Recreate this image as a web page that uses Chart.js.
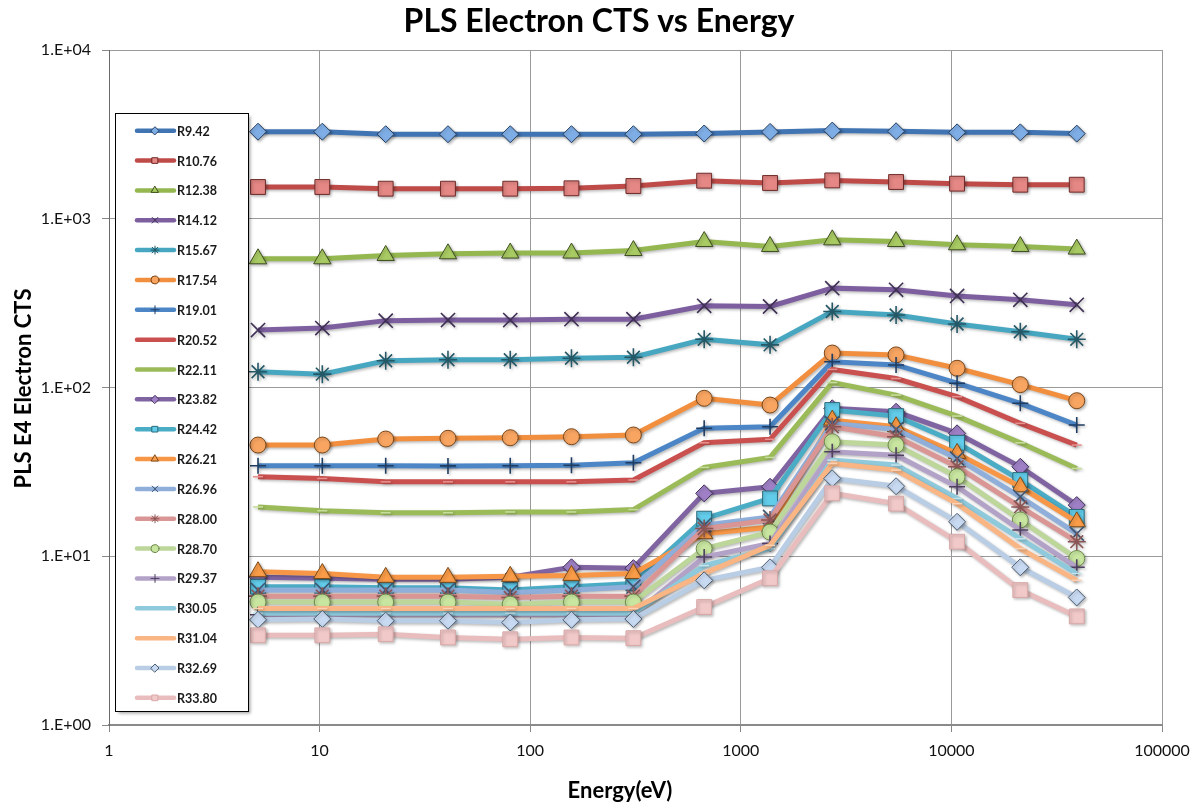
<!DOCTYPE html>
<html>
<head>
<meta charset="utf-8">
<script src="https://cdn.jsdelivr.net/npm/chart.js@4.4.1/dist/chart.umd.min.js"></script>
<style>
  html, body { margin: 0; padding: 0; background: #fff; }
  #wrap { width: 1199px; height: 807px; position: relative; }
</style>
</head>
<body>
<div id="wrap"><canvas id="c"></canvas></div>
<script>
// energy (eV) of each sample
const energy = [5.1, 10.3, 20.6, 40.7, 80.4, 157, 309, 670, 1377, 2718, 5461, 10640, 21240, 39370];

// counts per series
const r942  = [3280, 3280, 3170, 3170, 3170, 3170, 3170, 3200, 3270, 3330, 3300, 3250, 3250, 3195];
const r1076 = [1542, 1542, 1507, 1507, 1507, 1515, 1563, 1681, 1629, 1687, 1651, 1614, 1591, 1591];
const r1238 = [579, 579, 606, 620, 626, 626, 648, 733, 685, 750, 733, 701, 685, 661];
const r1412 = [219, 225, 249, 251, 251, 254, 254, 305, 302, 388, 379, 349, 331, 309];
const r1567 = [124, 120, 144, 146, 146, 149, 151, 193, 179, 282, 269, 238, 214, 193];
const r1754 = [45.6, 45.6, 49.5, 50, 50.4, 51.1, 52.3, 86.3, 78.7, 160, 156, 130, 104, 83.5];
const r1901 = [34.4, 34.4, 34.4, 34.3, 34.4, 34.6, 35.8, 57.3, 58.5, 142, 136, 106, 80.6, 59.9];
const r2052 = [29.6, 28.9, 27.6, 27.6, 27.6, 27.6, 28.3, 47, 49.3, 128, 113, 88.2, 61.3, 45.6];
const r2211 = [19.6, 18.6, 18.1, 18.1, 18.3, 18.3, 18.9, 33.6, 38.5, 107, 90.2, 67.7, 47, 33.1];
const r2382 = [7.5, 7.4, 7.3, 7.3, 7.5, 8.6, 8.5, 23.6, 25.8, 75.3, 71.8, 53.5, 33.9, 20.1];
const r2442 = [6.6, 6.6, 6.5, 6.5, 6.3, 6.6, 6.9, 16.7, 22, 73.5, 67.7, 47, 28.3, 17.1];
const r2621 = [8.1, 7.9, 7.5, 7.5, 7.6, 7.7, 7.9, 13.6, 14.9, 64.1, 58.5, 40.7, 25.8, 16.0];
const r2696 = [6.3, 6.3, 6.3, 6.3, 6.1, 6.3, 6.6, 15.3, 17.1, 61.3, 56.5, 38, 22.5, 13.6];
const r2800 = [5.8, 5.8, 5.8, 5.8, 5.7, 5.8, 5.8, 14.6, 16.4, 58.5, 51.1, 33.9, 19.6, 12.2];
const r2870 = [5.35, 5.35, 5.35, 5.35, 5.2, 5.35, 5.35, 11.1, 13.9, 47.7, 45.6, 29.6, 16.4, 9.7];
const r2937 = [4.5, 4.5, 4.5, 4.5, 4.5, 4.5, 4.5, 9.9, 11.9, 41.6, 39.7, 25.8, 14.3, 8.6];
const r3005 = [4.6, 4.6, 4.6, 4.6, 4.6, 4.6, 4.6, 8.8, 11.1, 37.1, 34.7, 22, 12.7, 7.9];
const r3104 = [4.9, 4.9, 4.9, 4.9, 4.9, 4.9, 4.9, 7.9, 11.6, 35.5, 32.4, 20.5, 11.1, 7.2];
const r3269 = [4.2, 4.25, 4.15, 4.15, 4.05, 4.2, 4.25, 7.2, 8.6, 28.9, 26.0, 16.0, 8.6, 5.7];
const r3380 = [3.4, 3.4, 3.45, 3.3, 3.22, 3.3, 3.27, 5.0, 7.4, 23.6, 20.5, 12.2, 6.3, 4.4];

const seriesNames = ['R9.42', 'R10.76', 'R12.38', 'R14.12', 'R15.67', 'R17.54', 'R19.01', 'R20.52', 'R22.11', 'R23.82',
                     'R24.42', 'R26.21', 'R26.96', 'R28.00', 'R28.70', 'R29.37', 'R30.05', 'R31.04', 'R32.69', 'R33.80'];
const seriesValues = [r942, r1076, r1238, r1412, r1567, r1754, r1901, r2052, r2211, r2382,
                      r2442, r2621, r2696, r2800, r2870, r2937, r3005, r3104, r3269, r3380];

const xTicks = [1, 10, 100, 1000, 10000, 100000];
const yTicks = [1, 10, 100, 1000, 10000];

// styles
const lineColors = ['#4174B3', '#BE4B48', '#94B750', '#7D5FA0', '#47A7C1', '#F28F3F', '#4C86C6', '#C9504E', '#9BBB59', '#8064A2',
                    '#4BACC6', '#F79646', '#8FAEDA', '#D99694', '#BDD69A', '#B3A2C7', '#8FCADC', '#F9B583', '#B9CDE5', '#E9BDBD'];
const markerFills = ['#7FAEE6', '#E58784', '#A9CB63', '#7D5FA0', '#47A7C1', '#F9A562', '#4C86C6', '#E07371', '#B6D67A', '#9F80C6',
                     '#62CDEB', '#FA9C48', '#8FAEDA', '#D99694', '#C8E6A0', '#B3A2C7', '#B4E0EC', '#FBCBA3', '#C8DAF2', '#F2C9C9'];
const markerEdges = ['#263F5E', '#6E2B29', '#3E4F20', '#3F2F55', '#245867', '#7A4718', '#1F3D63', '#E8908E', '#C7DD9B', '#40305A',
                     '#2C6A7A', '#7A4A18', '#3F5570', '#8A5554', '#6F8A4D', '#4F4060', '#C4E4EE', '#FBD3B4', '#4C5D72', '#D9A8A8'];
const markerShapes = ['rectRot', 'rect', 'triangle', 'crossRot', 'star', 'circle', 'cross', 'line', 'line',
                      'rectRot', 'rect', 'triangle', 'crossRot', 'star', 'circle', 'cross', 'line', 'line',
                      'rectRot', 'rect'];
const markerSizes = { rectRot: 8.5, rect: 10.5, triangle: 10, crossRot: 10, star: 9, circle: 8, cross: 8, line: 5 };

const FONT = 'Lato, "Liberation Sans", sans-serif';

const datasets = seriesNames.map((name, i) => {
    const shape = markerShapes[i];
    const stroked = shape === 'crossRot' || shape === 'star' || shape === 'cross' || shape === 'line';
    return {
        label: name,
        data: energy.map((e, j) => ({ x: e, y: seriesValues[i][j] })),
        borderColor: lineColors[i],
        borderWidth: 5,
        pointStyle: shape,
        pointRadius: markerSizes[shape],
        pointBackgroundColor: markerFills[i],
        pointBorderColor: markerEdges[i],
        pointBorderWidth: stroked ? 1.6 : 1,
        tension: 0,
        fill: false,
        order: seriesNames.length - i
    };
});

// soft shadow like the spreadsheet look
const shadowPlugin = {
    id: 'shadow',
    beforeDatasetsDraw(chart) {
        const ctx = chart.ctx;
        ctx.save();
        ctx.shadowColor = 'rgba(0,0,0,0.28)';
        ctx.shadowBlur = 3;
        ctx.shadowOffsetX = 1.5;
        ctx.shadowOffsetY = 1.5;
    },
    afterDatasetsDraw(chart) {
        chart.ctx.restore();
    }
};

// title, axis titles and the boxed legend
const decorPlugin = {
    id: 'decor',
    afterDraw(chart) {
        const ctx = chart.ctx;
        const area = chart.chartArea;
        ctx.save();
        ctx.fillStyle = '#000';
        ctx.textAlign = 'center';
        ctx.textBaseline = 'alphabetic';
        ctx.font = 'bold 32px ' + FONT;
        ctx.fillText('PLS Electron CTS vs Energy', 599, 32);
        ctx.font = 'bold 22px ' + FONT;
        ctx.fillText('Energy(eV)', 620, 798);
        ctx.save();
        ctx.translate(31, 388.5);
        ctx.rotate(-Math.PI / 2);
        ctx.fillText('PLS E4 Electron CTS', 0, 0);
        ctx.restore();

        // legend box
        const bx = 115.5, by = 113.5, bw = 133, bh = 598;
        ctx.save();
        ctx.shadowColor = 'rgba(0,0,0,0.35)';
        ctx.shadowBlur = 3;
        ctx.shadowOffsetX = 2;
        ctx.shadowOffsetY = 2;
        ctx.fillStyle = '#fff';
        ctx.fillRect(bx, by, bw, bh);
        ctx.restore();
        ctx.strokeStyle = '#000';
        ctx.lineWidth = 1;
        ctx.strokeRect(bx, by, bw, bh);

        ctx.textAlign = 'left';
        ctx.textBaseline = 'middle';
        ctx.font = 'bold 12.5px ' + FONT;
        chart.data.datasets.forEach((ds, i) => {
            const y = 130.7 + i * 29.85;
            ctx.strokeStyle = ds.borderColor;
            ctx.lineWidth = 4.5;
            ctx.lineCap = 'round';
            ctx.beginPath();
            ctx.moveTo(137, y);
            ctx.lineTo(174, y);
            ctx.stroke();
            if (Chart.helpers && Chart.helpers.drawPoint) {
                ctx.fillStyle = ds.pointBackgroundColor;
                ctx.strokeStyle = ds.pointBorderColor;
                ctx.lineWidth = 1;
                Chart.helpers.drawPoint(ctx, {
                    pointStyle: ds.pointStyle,
                    radius: ds.pointStyle === 'line' ? 0 : 4,
                    rotation: 0,
                    borderWidth: 1
                }, 155, y);
            }
            ctx.fillStyle = '#1a1a1a';
            ctx.fillText(ds.label, 177, y + 1);
        });
        ctx.restore();
    }
};

new Chart(document.getElementById('c'), {
    type: 'line',
    data: { datasets: datasets },
    options: {
        responsive: true,
        maintainAspectRatio: false,
        animation: false,
        devicePixelRatio: 1,
        layout: { padding: { top: 50, right: 37, left: 0, bottom: 0 } },
        plugins: {
            legend: { display: false },
            tooltip: { enabled: false },
            title: { display: false }
        },
        scales: {
            x: {
                type: 'logarithmic',
                min: 1,
                max: 100000,
                afterFit: (s) => { s.height = 82; },
                afterBuildTicks: (s) => { s.ticks = xTicks.map(v => ({ value: v })); },
                ticks: {
                    autoSkip: false,
                    maxRotation: 0,
                    padding: 9,
                    color: '#111',
                    font: { family: FONT, size: 16 },
                    callback: (v) => String(v)
                },
                grid: { color: '#9a9a9a', lineWidth: 1, tickLength: 7, tickColor: '#888' },
                border: { display: true, color: '#8a8a8a', width: 2 }
            },
            y: {
                type: 'logarithmic',
                min: 1,
                max: 10000,
                afterFit: (s) => { s.width = 109; },
                afterBuildTicks: (s) => { s.ticks = yTicks.map(v => ({ value: v })); },
                ticks: {
                    autoSkip: false,
                    padding: 11,
                    color: '#111',
                    font: { family: FONT, size: 16 },
                    callback: (v) => '1.E+0' + Math.round(Math.log10(v))
                },
                grid: { color: '#9a9a9a', lineWidth: 1, tickLength: 7, tickColor: '#888' },
                border: { display: true, color: '#6a6a6a', width: 1 }
            }
        }
    },
    plugins: [shadowPlugin, decorPlugin]
});
</script>
</body>
</html>
